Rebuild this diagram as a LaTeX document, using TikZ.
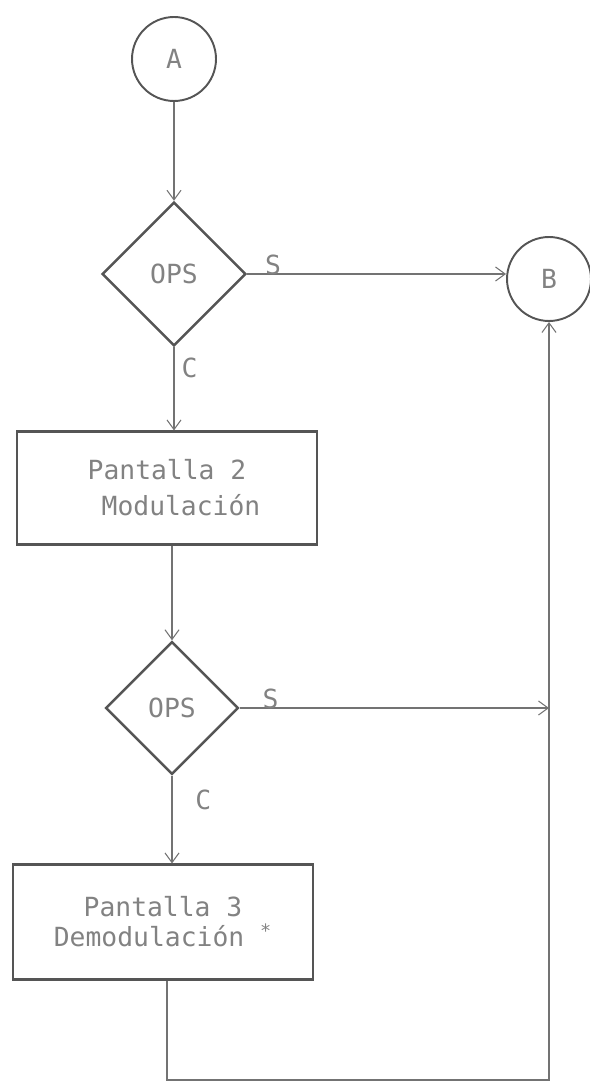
\documentclass[tikz,border=0pt]{standalone}
\usepackage{fontspec}
\setmonofont{DejaVu Sans Mono}
\usetikzlibrary{arrows.meta, shapes.geometric}
\definecolor{inkline}{RGB}{115,115,115}
\definecolor{inkbox}{RGB}{85,85,85}
\definecolor{inktext}{RGB}{130,130,130}

\begin{document}
\begin{tikzpicture}[x=0.02cm, y=-0.02cm,
        >={Straight Barb[length=5.5pt,width=8pt]},
        conn/.style={draw=inkline, line width=0.6pt},
        term/.style={circle, draw=inkbox, line width=1.1pt, inner sep=0pt,
                     minimum size=1.68cm, text=inktext,
                     font=\ttfamily\fontsize{15pt}{17pt}\selectfont},
        ask/.style={diamond, draw=inkbox, line width=1.4pt, inner sep=0pt,
                    text=inktext, font=\ttfamily\fontsize{15pt}{17pt}\selectfont},
        proc/.style={rectangle, draw=inkbox, line width=1.2pt, minimum width=6cm,
                     align=center, text=inktext,
                     font=\ttfamily\fontsize{15pt}{17pt}\selectfont},
        lbl/.style={text=inktext, inner sep=0pt,
                    font=\ttfamily\fontsize{15pt}{17pt}\selectfont}]
      \useasboundingbox (0,0) rectangle (589,1084);
      \node[term] (A)  at (174,59)  {A};
      \node[ask, minimum size=2.88cm] (q1) at (174,274) {OPS};
      \node[term] (B)  at (549,279) {B};
      \node[proc, minimum height=2.26cm] (p2) at (167,488)
            {Pantalla 2\\[3.5pt]\hspace*{0.56cm}Modulación};
      \node[ask, minimum size=2.66cm] (q2) at (172,708) {OPS};
      \node[proc, minimum height=2.3cm] (p3) at (163,922)
            {Pantalla 3\\Demodulación \textsuperscript{*}};
      \coordinate (jn) at (549,708);
      \coordinate (bl) at (167,1080);
      \coordinate (br) at (549,1080);
      \draw[conn,->] (A) -- (q1);
      \draw[conn,->] (q1.east) -- node[lbl, pos=0.1, above=-1pt]{S} (q1.east -| B.west);
      \draw[conn,->] (q1.south) -- node[lbl, pos=0.25, right=4pt]{C} (q1.south |- p2.north);
      \draw[conn,->] (p2.south -| q2) -- (q2.north);
      \draw[conn,->] (q2.east) -- node[lbl, pos=0.1, above=-1pt]{S} (q2.east -| jn);
      \draw[conn,->] (q2.south) -- node[lbl, pos=0.28, right=13pt]{C} (q2.south |- p3.north);
      \draw[conn,->] (p3.south -| bl) -- (bl) -- (br) -- (B.south);
    \end{tikzpicture}
\end{document}
